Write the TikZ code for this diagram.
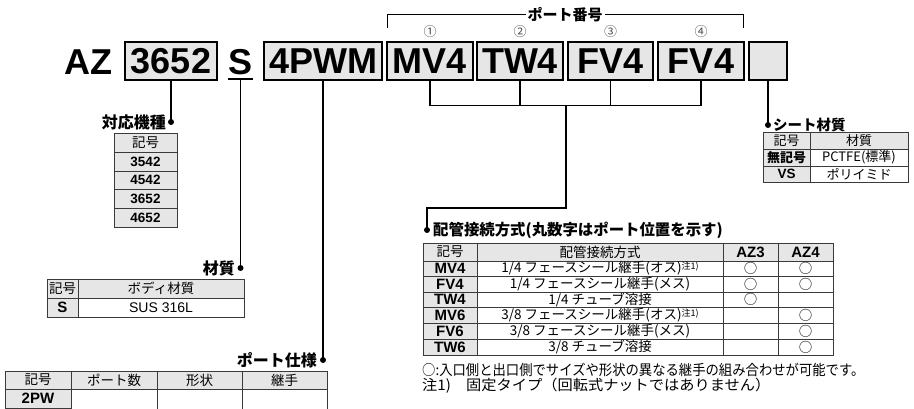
\documentclass[tikz,border=0pt]{standalone}
\usepackage{fontspec}
\setmainfont{Liberation Sans}
\newfontfamily\jp{Noto Sans CJK JP}
\definecolor{boxgray}{HTML}{E6E6E6}
\definecolor{lin}{HTML}{3A3A3A}
\newcommand\tcell[8]{\path[#2] (#4,#5) rectangle (#6,#7); \node[#3] (#1) at ({(#4+#6)/2},{(#5+#7)/2}) {#8};}
\newcommand\chu{\raisebox{0.45ex}{\fontsize{9}{9}\selectfont 注1)}}
\tikzset{
  codebox/.style={draw=black, line width=1.1pt, fill=boxgray, minimum height=38pt, inner sep=0pt, font=\fontsize{36}{36}\selectfont\bfseries},
  bigtxt/.style={font=\fontsize{36}{36}\selectfont\bfseries, inner sep=0pt},
  conn/.style={line width=1.1pt, draw=black},
  dot/.style={circle, fill=black, inner sep=0pt, minimum size=6pt},
  lbl/.style={font=\jp\fontsize{16}{18}\selectfont\bfseries, inner sep=0pt},
  gcell/.style={draw=lin, fill=boxgray, line width=0.7pt},
  wcell/.style={draw=lin, fill=white, line width=0.7pt},
  ttxt/.style={font=\jp\fontsize{13.5}{15}\selectfont, inner sep=0pt},
  tsm/.style={font=\jp\fontsize{13}{14}\selectfont, inner sep=0pt},
  tlat/.style={font=\fontsize{14}{15}\selectfont, inner sep=0pt},
  tbold/.style={font=\fontsize{15}{16}\selectfont\bfseries, inner sep=0pt},
  tbolds/.style={font=\fontsize{13.5}{14}\selectfont\bfseries, inner sep=0pt},
  tjb/.style={font=\jp\fontsize{13}{14}\selectfont\bfseries, inner sep=0pt},
  circnum/.style={font=\jp\fontsize{13}{14}\selectfont, text=black!70, inner sep=0pt},
  note/.style={font=\jp\fontsize{14.5}{16}\selectfont, inner sep=0pt, anchor=west},
}
\begin{document}
\begin{tikzpicture}[x=1pt,y=-1pt]
\useasboundingbox (0,0) rectangle (914,409);

% ---------- code line ----------
\node[bigtxt, anchor=base] (az) at (88.5,75) {AZ};
\node[codebox, minimum width=92pt] (b3652) at (171,61) {3652};
\node[bigtxt, anchor=base] (s) at (240.5,75) {S};
\coordinate (sul) at (228,79);
\coordinate (sur) at (253,79);
\draw[line width=1.4pt] (sul) -- (sur);
\coordinate (sbot) at (240.5,79);
\node[codebox, minimum width=118pt] (b4pwm) at (323,61) {4PWM};
\node[codebox, minimum width=86pt] (bmv4) at (430,61) {MV4};
\node[codebox, minimum width=86pt] (btw4) at (520,61) {TW4};
\node[codebox, minimum width=85pt] (bfv4a) at (610.5,61) {FV4};
\node[codebox, minimum width=86pt] (bfv4b) at (701,61) {FV4};
\node[codebox, minimum width=38pt] (bempty) at (768,61) {};

% ---------- port number bracket ----------
\coordinate (brl) at (387,28);
\coordinate (brr) at (743,28);
\draw[line width=1pt] (brl) -- ++(0,-13) -| (brr);
\node[lbl, fill=white, inner xsep=2pt, font=\jp\fontsize{15}{16}\selectfont\bfseries] (portno) at (565,15) {ポート番号};
\node[circnum] (c1) at (430,32) {①};
\node[circnum] (c2) at (520,32) {②};
\node[circnum] (c3) at (610.5,32) {③};
\node[circnum] (c4) at (701,32) {④};

% ---------- connectors ----------
\draw[conn] (bmv4.south) -- ++(0,25) coordinate (j1) -- (j1 -| bfv4b.south) -- (bfv4b.south);
\draw[conn] (btw4.south) -- (btw4.south |- j1);
\draw[conn] (bfv4a.south) -- (bfv4a.south |- j1);
\coordinate (jm) at (566,105);
\coordinate (jturn) at (566,208);
\node[dot] (dpipe) at (427,230) {};
\draw[conn] (jm) -- (jturn) -| (dpipe.center);
\node[lbl, anchor=west, font=\jp\fontsize{15.4}{17}\selectfont\bfseries] (lpipe) at (433,230) {配管接続方式(丸数字はポート位置を示す)};

\node[dot] (dmodel) at (171,122) {};
\draw[conn] (b3652.south) -- (dmodel.center);
\node[lbl, anchor=east] (lmodel) at (166,122) {対応機種};

\node[dot] (dmat) at (240.5,268) {};
\draw[conn] (sbot) -- (dmat.center);
\node[lbl, anchor=east] (lmat) at (235,268) {材質};

\node[dot] (dport) at (323,360) {};
\draw[conn] (b4pwm.south) -- (dport.center);
\node[lbl, anchor=east] (lport) at (317,360) {ポート仕様};

\node[dot] (dseat) at (768,125) {};
\draw[conn] (bempty.south) -- (dseat.center);
\node[lbl, anchor=west, font=\jp\fontsize{14.5}{16}\selectfont\bfseries] (lseat) at (773,125) {シート材質};

% ---------- model table ----------
\tcell{m0}{gcell}{ttxt}{114}{133}{177}{152}{記号}
\tcell{m1}{gcell}{tbolds}{114}{152}{177}{171}{3542}
\tcell{m2}{gcell}{tbolds}{114}{171}{177}{189}{4542}
\tcell{m3}{gcell}{tbolds}{114}{189}{177}{208}{3652}
\tcell{m4}{gcell}{tbolds}{114}{208}{177}{227}{4652}

% ---------- material table ----------
\tcell{s00}{gcell}{ttxt}{47}{279}{78}{298}{記号}
\tcell{s01}{gcell}{ttxt}{78}{279}{244}{298}{ボディ材質}
\tcell{s10}{gcell}{tbold}{47}{298}{78}{317}{S}
\tcell{s11}{wcell}{tlat}{78}{298}{244}{317}{SUS 316L}

% ---------- port spec table ----------
\tcell{p00}{gcell}{ttxt}{5}{371}{71}{389}{記号}
\tcell{p01}{gcell}{ttxt}{71}{371}{157}{389}{ポート数}
\tcell{p02}{gcell}{ttxt}{157}{371}{242}{389}{形状}
\tcell{p03}{gcell}{ttxt}{242}{371}{327}{389}{継手}
\tcell{p10}{gcell}{tbold}{5}{389}{71}{408}{2PW}
\path[gcell] (5,408) rectangle (71,425);
\path[wcell] (71,389) rectangle (157,425);
\path[wcell] (157,389) rectangle (242,425);
\path[wcell] (242,389) rectangle (327,425);

% ---------- seat table ----------
\tcell{t00}{gcell}{tsm}{763}{132}{810}{149}{記号}
\tcell{t01}{gcell}{tsm}{810}{132}{908}{149}{材質}
\tcell{t10}{gcell}{tjb}{763}{149}{810}{166}{無記号}
\tcell{t11}{wcell}{tsm}{810}{149}{908}{166}{PCTFE(標準)}
\tcell{t20}{gcell}{tbolds}{763}{166}{810}{182}{VS}
\tcell{t21}{wcell}{tsm}{810}{166}{908}{182}{ポリイミド}

% ---------- pipe table ----------
\tcell{h0}{gcell}{ttxt}{423}{243}{477}{261}{記号}
\tcell{h1}{gcell}{ttxt}{477}{243}{723}{261}{配管接続方式}
\tcell{h2}{gcell}{tbold}{723}{243}{778}{261}{AZ3}
\tcell{h3}{gcell}{tbold}{778}{243}{833}{261}{AZ4}

\tcell{r1a}{gcell}{tbold}{423}{261}{477}{276}{MV4}
\tcell{r1b}{wcell}{ttxt}{477}{261}{723}{276}{1/4 フェースシール継手(オス)\chu}
\tcell{r1c}{wcell}{ttxt}{723}{261}{778}{276}{○}
\tcell{r1d}{wcell}{ttxt}{778}{261}{833}{276}{○}

\tcell{r2a}{gcell}{tbold}{423}{276}{477}{292}{FV4}
\tcell{r2b}{wcell}{ttxt}{477}{276}{723}{292}{1/4 フェースシール継手(メス)}
\tcell{r2c}{wcell}{ttxt}{723}{276}{778}{292}{○}
\tcell{r2d}{wcell}{ttxt}{778}{276}{833}{292}{○}

\tcell{r3a}{gcell}{tbold}{423}{292}{477}{307}{TW4}
\tcell{r3b}{wcell}{ttxt}{477}{292}{723}{307}{1/4 チューブ溶接}
\tcell{r3c}{wcell}{ttxt}{723}{292}{778}{307}{○}
\tcell{r3d}{wcell}{ttxt}{778}{292}{833}{307}{}

\tcell{r4a}{gcell}{tbold}{423}{307}{477}{323}{MV6}
\tcell{r4b}{wcell}{ttxt}{477}{307}{723}{323}{3/8 フェースシール継手(オス)\chu}
\tcell{r4c}{wcell}{ttxt}{723}{307}{778}{323}{}
\tcell{r4d}{wcell}{ttxt}{778}{307}{833}{323}{○}

\tcell{r5a}{gcell}{tbold}{423}{323}{477}{339}{FV6}
\tcell{r5b}{wcell}{ttxt}{477}{323}{723}{339}{3/8 フェースシール継手(メス)}
\tcell{r5c}{wcell}{ttxt}{723}{323}{778}{339}{}
\tcell{r5d}{wcell}{ttxt}{778}{323}{833}{339}{○}

\tcell{r6a}{gcell}{tbold}{423}{339}{477}{355}{TW6}
\tcell{r6b}{wcell}{ttxt}{477}{339}{723}{355}{3/8 チューブ溶接}
\tcell{r6c}{wcell}{ttxt}{723}{339}{778}{355}{}
\tcell{r6d}{wcell}{ttxt}{778}{339}{833}{355}{○}

\node[note] (n1) at (422,370) {\scalebox{0.92}[1]{○:入口側と出口側でサイズや形状の異なる継手の組み合わせが可能です。}};
\node[note] (n2) at (422,386) {\scalebox{1.05}[1]{注1)　固定タイプ（回転式ナットではありません）}};
\end{tikzpicture}
\end{document}
